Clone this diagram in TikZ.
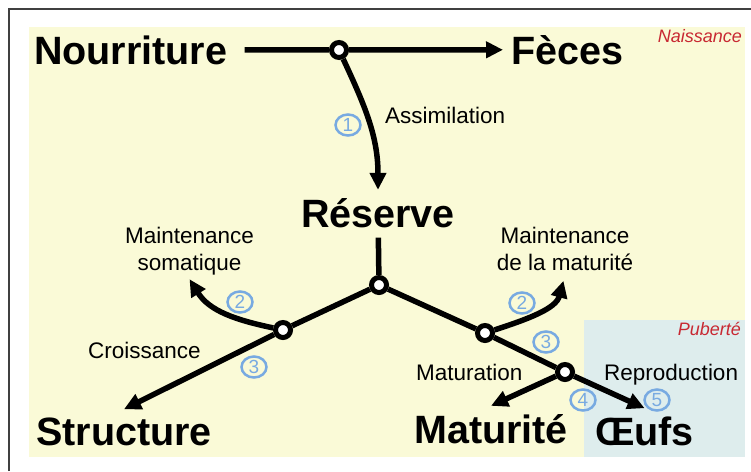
\documentclass[tikz,border=0pt]{standalone}
\usepackage{fontspec}
\setmainfont{Liberation Sans}
\usepackage{tikz}
\usetikzlibrary{
  arrows.meta, % for the Triangle arrow tip
  shapes.geometric, % for the ellipse round the step numbers
}
\definecolor{bgyellow}{RGB}{250,250,215}
\definecolor{bgblue}{RGB}{222,237,237}
\definecolor{stagered}{RGB}{200,40,50}
\definecolor{stepblue}{RGB}{120,170,225}
\tikzset{
  compartment/.style={ % style for the big compartment names
    font=\bfseries\fontsize{39.5}{42}\selectfont,
    inner sep=8pt, % gap between the text and the flows
  },
  process/.style={ % style for the process labels
    font=\fontsize{22.5}{27}\selectfont,
    align=center, % for the labels on two lines
    inner sep=4pt,
  },
  stage/.style={ % style for the life stage names
    font=\itshape\fontsize{18}{20}\selectfont,
    text=stagered,
    inner sep=0pt,
  },
  junction/.style={ % style for the branching points
    circle,draw,fill=white, % drawn as a white circle
    line width=5pt, % with a heavy black rim
    inner sep=0pt,
    minimum size=15pt,
  },
  stepnum/.style={ % style for the numbered steps
    ellipse,draw=stepblue,text=stepblue,
    line width=2.5pt,
    inner sep=0pt,
    minimum width=25pt, minimum height=21pt,
    font=\fontsize{19}{19}\selectfont,
  },
  flow/.style={ % style for the flows without a tip
    line width=5.5pt,
  },
  conn/.style={ % style for the flows
    flow,
    -{Triangle[length=17pt,width=16pt]}, % filled triangle tip
  },
}

\begin{document}
\begin{tikzpicture}[x=1pt,y=1pt]
\useasboundingbox (0,0) rectangle (751,-471);
% backgrounds and frame
\fill[bgyellow] (29,-27) rectangle (745,-457);
\fill[bgblue] (584,-320) rectangle (745,-457);
\draw[line width=1.5pt,black!75] (9,-471) -- (9,-9) -- (751,-9);
\node[stage, anchor=base east] (naissance) at (742,-42) {Naissance};
\node[stage, anchor=base east] (puberte) at (741,-335) {Puberté};
% compartments
\node[compartment, anchor=base west] (nourriture) at (26,-64) {Nourriture};
\node[compartment, anchor=base west] (feces) at (503,-64) {Fèces};
\node[compartment, anchor=base] (reserve) at (378,-227) {Réserve};
\node[compartment, anchor=base west] (structure) at (28,-445) {Structure};
\node[compartment, anchor=base west] (maturite) at (406,-443) {Maturité};
\node[compartment, anchor=base west] (oeufs) at (587,-445) {Œufs};
% branching points
\node[junction] (j0) at (339,-50) {};
\node[junction] (j1) at (379,-285) {};
\node[junction] (j2) at (283,-330) {};
\node[junction] (j3) at (485,-333) {};
\node[junction] (j4) at (565,-372) {};
% processes
\node[process, anchor=base west] (assim) at (381,-123) {Assimilation};
\node[process] (msoma) at (189.5,-251) {Maintenance\\somatique};
\node[process] (mmat) at (565,-249) {Maintenance\\de la maturité};
\node[process, anchor=base west] (croiss) at (84,-358) {Croissance};
\node[process, anchor=base west] (matur) at (412,-380) {Maturation};
\node[process, anchor=base west] (repro) at (600,-380) {Reproduction};
% numbered steps
\node[stepnum] (n1) at (348,-125) {1};
\node[stepnum] (n2a) at (240,-302) {2};
\node[stepnum] (n3a) at (254,-367) {3};
\node[stepnum] (n2b) at (522,-303) {2};
\node[stepnum] (n3b) at (546,-342) {3};
\node[stepnum] (n4) at (583,-400) {4};
\node[stepnum] (n5) at (657,-400) {5};
% flows
\draw[flow, shorten <=9pt] (nourriture) -- (j0);
\draw[conn] (j0) -- (feces);
\draw[conn] (j0) to[out=-65,in=90] (reserve.north);
\draw[flow, shorten <=2pt] (reserve) -- (j1);
\draw[flow] (j1) -- (j2);
\draw[conn] (j2) -- (structure.north);
\draw[conn] (j2) to[out=168,in=-58] (msoma.south);
\draw[flow] (j1) -- (j3);
\draw[conn, shorten >=6pt] (j3) to[out=18,in=-105] (mmat.south);
\draw[flow] (j3) -- (j4);
\draw[conn] (j4) -- (maturite.north);
\draw[conn] (j4) -- (oeufs.north);
\end{tikzpicture}
\end{document}
